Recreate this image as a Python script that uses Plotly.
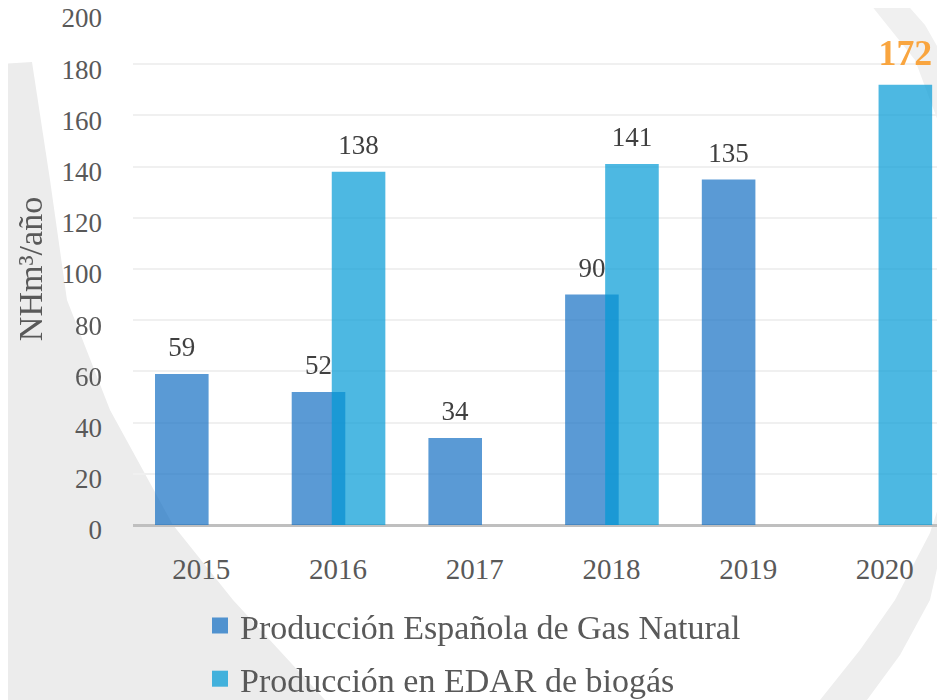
import plotly.graph_objects as go

years = ["2015", "2016", "2017", "2018", "2019", "2020"]
gas_natural = [59, 52, 34, 90, 135, None]
edar_biogas = [None, 138, None, 141, None, 172]
series_names = ["Producción Española de Gas Natural", "Producción en EDAR de biogás"]
y_ticks = [0, 20, 40, 60, 80, 100, 120, 140, 160, 180, 200]

BLUE = "#136fc3"
CYAN = "#009ad6"
SERIF = "Liberation Serif"
GREY_TXT = "#595959"

# page has an 8px body margin; the figure is sized to fill the rest of the window
OFF = 8
W, H = 945 - OFF, 700 - OFF
L, R, T, B = 125, 0, 5, 175
PW, PH = W - L - R, H - T - B


def px(x, y):
    # convert window pixel coords (as seen in the reference) to paper coords
    return (x - OFF - L) / PW, (H - B - (y - OFF)) / PH


def path(points):
    s = ""
    for i, (x, y) in enumerate(points):
        a, b = px(x, y)
        s += ("M" if i == 0 else "L") + f"{a:.4f},{b:.4f} "
    return s + "Z"


bar_w = 0.392
off_blue = -0.339
off_cyan = -0.046
label_pad = 3.4

fig = go.Figure()


def add_series(vals, color, off, is_last):
    fig.add_trace(go.Bar(
        x=years, y=vals, offset=off, width=bar_w,
        marker=dict(color=color, line=dict(width=0)), opacity=0.7,
        showlegend=False, hoverinfo="skip",
    ))
    texts, sizes, colors = [], [], []
    for i, v in enumerate(vals):
        if v is None:
            texts.append("")
            sizes.append(27)
            colors.append("#404040")
        elif is_last and i == len(vals) - 1:
            texts.append(f"<b>{v}</b>")
            sizes.append(45)
            colors.append("#f9a53f")
        else:
            texts.append(str(v))
            sizes.append(27)
            colors.append("#404040")
    fig.add_trace(go.Bar(
        x=years, y=[label_pad if v is not None else None for v in vals],
        base=[v if v is not None else 0 for v in vals],
        offset=off, width=bar_w,
        marker=dict(color="rgba(0,0,0,0)", line=dict(width=0)),
        text=texts, textposition="outside", cliponaxis=False,
        textfont=dict(family=SERIF, size=sizes, color=colors),
        showlegend=False, hoverinfo="skip",
    ))


add_series(gas_natural, BLUE, off_blue, False)
add_series(edar_biogas, CYAN, off_cyan, True)

for name, color, grp in [(series_names[0], BLUE, "a"), (series_names[1], CYAN, "b")]:
    fig.add_trace(go.Scatter(
        x=[None], y=[None], mode="markers", name=name, legendgroup=grp,
        marker=dict(symbol="square", size=16, color=color, opacity=0.72),
    ))

shapes = [
    dict(type="path", xref="paper", yref="paper", layer="below",
         path=path([(0, 64), (32, 62), (50, 180), (67, 300), (110, 410), (173, 525),
                    (233, 600), (325, 700), (0, 700)]),
         fillcolor="#ececec", line=dict(width=0)),
    dict(type="path", xref="paper", yref="paper", layer="below",
         path=path([(867, 0), (903, 0), (925, 25), (945, 60), (945, 140), (915, 60)]),
         fillcolor="#f0f0f0", line=dict(width=0)),
    dict(type="path", xref="paper", yref="paper", layer="below",
         path=path([(945, 487), (945, 533), (930, 600), (900, 655), (867, 700),
                    (820, 700), (860, 650), (895, 600), (930, 533)]),
         fillcolor="#eeeeee", line=dict(width=0)),
]

fig.update_layout(
    width=W, height=H,
    margin=dict(l=L, r=R, t=T, b=B, pad=0, autoexpand=False),
    paper_bgcolor="white", plot_bgcolor="rgba(0,0,0,0)",
    barmode="overlay",
    shapes=shapes,
    showlegend=True,
    legend=dict(
        orientation="v", x=0.0825, xanchor="left",
        yref="container", y=0.149, yanchor="top",
        font=dict(family=SERIF, size=34, color=GREY_TXT),
        bgcolor="rgba(0,0,0,0)", tracegroupgap=6, itemsizing="trace",
    ),
    font=dict(family=SERIF, color=GREY_TXT),
)
fig.update_xaxes(
    type="category", range=[-0.5, 5.44], showgrid=False, showline=False,
    ticks="", tickfont=dict(family=SERIF, size=29, color=GREY_TXT),
    ticklabelstandoff=24, zeroline=False, fixedrange=True, automargin=False,
    ticklabeloverflow="allow",
)
fig.update_yaxes(
    range=[0, 200], tickvals=y_ticks, showgrid=True, gridcolor="#f0f0f0", gridwidth=2,
    zeroline=True, zerolinecolor="#bfbfbf", zerolinewidth=3, showline=False,
    ticks="", tickfont=dict(family=SERIF, size=27, color=GREY_TXT),
    ticklabelstandoff=30, ticklabelshift=5, automargin=False, ticklabeloverflow="allow",
    title=dict(text="NHm³/año", font=dict(family=SERIF, size=34, color=GREY_TXT), standoff=8),
)

fig.write_html("out.html")
